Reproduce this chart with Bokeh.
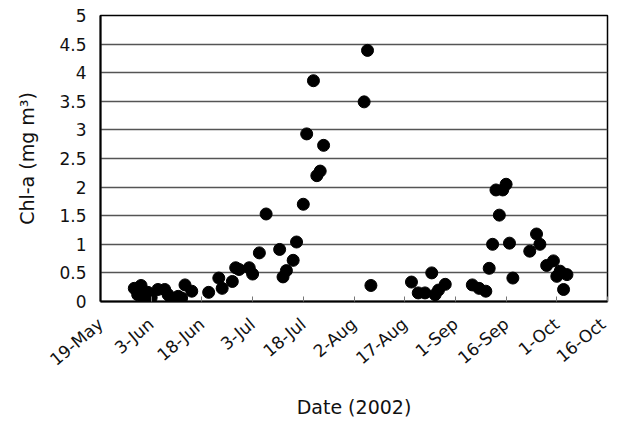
import math
import pandas as pd
from bokeh.plotting import figure
from bokeh.models import FixedTicker, Range1d, ColumnDataSource
from bokeh.embed import file_html
from bokeh.resources import INLINE

# Sampling dates (2002) and chlorophyll-a values (mg m^-3)
dates = [
    "2002-05-29", "2002-05-31", "2002-05-30", "2002-06-01", "2002-06-02",
    "2002-06-03", "2002-06-05", "2002-06-07", "2002-06-08", "2002-06-09",
    "2002-06-11", "2002-06-12", "2002-06-13", "2002-06-15",
    "2002-06-20", "2002-06-23", "2002-06-24", "2002-06-27", "2002-06-28",
    "2002-06-29", "2002-07-02", "2002-07-03", "2002-07-05", "2002-07-07",
    "2002-07-11", "2002-07-12", "2002-07-13", "2002-07-15", "2002-07-16",
    "2002-07-18", "2002-07-19", "2002-07-21", "2002-07-22", "2002-07-23",
    "2002-07-24", "2002-08-05", "2002-08-06", "2002-08-07",
    "2002-08-19", "2002-08-21", "2002-08-23", "2002-08-25", "2002-08-26",
    "2002-08-27", "2002-08-29",
    "2002-09-06", "2002-09-08", "2002-09-10", "2002-09-11", "2002-09-12",
    "2002-09-13", "2002-09-14", "2002-09-15", "2002-09-16", "2002-09-17",
    "2002-09-18", "2002-09-23", "2002-09-25", "2002-09-26", "2002-09-28",
    "2002-09-30", "2002-10-01", "2002-10-02", "2002-10-03", "2002-10-04",
]
chl = [
    0.23, 0.28, 0.12, 0.06, 0.16,
    0.07, 0.21, 0.21, 0.12, 0.05,
    0.09, 0.06, 0.29, 0.18,
    0.16, 0.41, 0.23, 0.35, 0.59,
    0.56, 0.59, 0.48, 0.85, 1.53,
    0.91, 0.43, 0.54, 0.72, 1.04,
    1.70, 2.93, 3.86, 2.20, 2.28,
    2.73, 3.49, 4.39, 0.28,
    0.34, 0.15, 0.15, 0.50, 0.12,
    0.20, 0.30,
    0.29, 0.23, 0.18, 0.58, 1.00,
    1.95, 1.51, 1.95, 2.05, 1.02,
    0.41, 0.88, 1.18, 1.00, 0.63,
    0.71, 0.44, 0.53, 0.21, 0.47,
]

tick_dates = ["2002-05-19", "2002-06-03", "2002-06-18", "2002-07-03",
              "2002-07-18", "2002-08-02", "2002-08-17", "2002-09-01",
              "2002-09-16", "2002-10-01", "2002-10-16"]
tick_labels = ["19-May", "3-Jun", "18-Jun", "3-Jul", "18-Jul", "2-Aug",
               "17-Aug", "1-Sep", "16-Sep", "1-Oct", "16-Oct"]
y_ticks = [0, 0.5, 1, 1.5, 2, 2.5, 3, 3.5, 4, 4.5, 5]

origin = pd.Timestamp(tick_dates[0])
xd = [(pd.Timestamp(d) - origin).days for d in dates]
xt = [(pd.Timestamp(d) - origin).days for d in tick_dates]

src = ColumnDataSource(dict(x=xd, y=chl))

FONT = "DejaVu Sans"

p = figure(width=609, height=422, output_backend="svg", toolbar_location=None,
           x_range=Range1d(xt[0], xt[-1]), y_range=Range1d(0, 5),
           min_border_left=100, min_border_right=2, min_border_top=15,
           min_border_bottom=121)

p.scatter("x", "y", source=src, size=12, color="black", marker="circle")

p.outline_line_color = "black"
p.outline_line_width = 1.5
p.background_fill_color = "white"
p.border_fill_color = "white"

# x axis
p.xaxis.ticker = FixedTicker(ticks=xt)
p.xaxis.major_label_overrides = {t: l for t, l in zip(xt, tick_labels)}
p.xaxis.major_label_orientation = 0.7
p.xaxis.major_tick_in = 5
p.xaxis.major_tick_out = 0
p.xaxis.major_tick_line_color = "#777777"
p.xaxis.minor_tick_line_color = None
p.xaxis.axis_line_color = "black"
p.xaxis.axis_line_width = 2
p.xaxis.major_label_text_font = FONT
p.xaxis.major_label_text_font_size = "17px"
p.xaxis.major_label_text_color = "#111111"
p.xaxis.major_label_standoff = 20
p.xaxis.axis_label = "Date (2002)"
p.xaxis.axis_label_text_font = FONT
p.xaxis.axis_label_text_font_size = "19px"
p.xaxis.axis_label_text_font_style = "normal"
p.xaxis.axis_label_text_color = "#111111"
p.xaxis.axis_label_standoff = 16

# y axis
p.yaxis.ticker = FixedTicker(ticks=y_ticks)
p.yaxis.major_tick_in = 0
p.yaxis.major_tick_out = 0
p.yaxis.minor_tick_line_color = None
p.yaxis.axis_line_color = "black"
p.yaxis.axis_line_width = 2
p.yaxis.major_label_text_font = FONT
p.yaxis.major_label_text_font_size = "17px"
p.yaxis.major_label_text_color = "#111111"
p.yaxis.major_label_standoff = 14
p.yaxis.axis_label = "Chl-a (mg m³)"
p.yaxis.axis_label_text_font = FONT
p.yaxis.axis_label_text_font_size = "19px"
p.yaxis.axis_label_text_font_style = "normal"
p.yaxis.axis_label_text_color = "#111111"
p.yaxis.axis_label_standoff = 18

p.xgrid.grid_line_color = None
p.ygrid.ticker = FixedTicker(ticks=y_ticks)
p.ygrid.grid_line_color = "#555555"
p.ygrid.grid_line_width = 1.5

open("out.html", "w").write(file_html(p, INLINE))
